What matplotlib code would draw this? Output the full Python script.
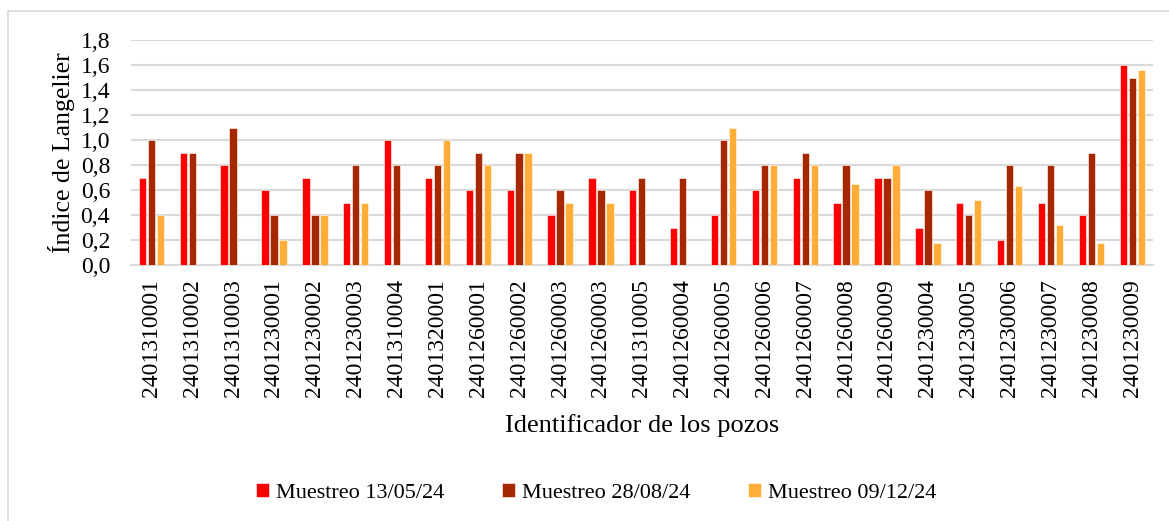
import matplotlib
matplotlib.use("Agg")
import matplotlib.pyplot as plt
import numpy as np
from matplotlib.patches import Rectangle

plt.rcParams['font.family'] = ['Liberation Serif', 'DejaVu Serif']

# Well identifiers and Langelier index per sampling campaign
pozos = ['2401310001', '2401310002', '2401310003', '2401230001', '2401230002',
         '2401230003', '2401310004', '2401320001', '2401260001', '2401260002',
         '2401260003', '2401260003', '2401310005', '2401260004', '2401260005',
         '2401260006', '2401260007', '2401260008', '2401260009', '2401230004',
         '2401230005', '2401230006', '2401230007', '2401230008', '2401230009']
muestreo_1 = [0.7, 0.9, 0.8, 0.6, 0.7, 0.5, 1.0, 0.7, 0.6, 0.6, 0.4, 0.7, 0.6,
              0.3, 0.4, 0.6, 0.7, 0.5, 0.7, 0.3, 0.5, 0.2, 0.5, 0.4, 1.6]
muestreo_2 = [1.0, 0.9, 1.1, 0.4, 0.4, 0.8, 0.8, 0.8, 0.9, 0.9, 0.6, 0.6, 0.7,
              0.7, 1.0, 0.8, 0.9, 0.8, 0.7, 0.6, 0.4, 0.8, 0.8, 0.9, 1.5]
muestreo_3 = [0.4, 0.0, 0.0, 0.2, 0.4, 0.5, 0.0, 1.0, 0.8, 0.9, 0.5, 0.5, 0.0,
              0.0, 1.1, 0.8, 0.8, 0.65, 0.8, 0.18, 0.52, 0.63, 0.32, 0.18, 1.56]
series = ['Muestreo 13/05/24', 'Muestreo 28/08/24', 'Muestreo 09/12/24']
colores = ['#FF0000', '#A52800', '#FFAD36']

fig = plt.figure(figsize=(11.69, 5.21), dpi=100)
ax = fig.add_axes([0.112, 0.491, 0.874, 0.432])

# light outer frame of the chart (only top and left visible in the original)
fig.patches.append(Rectangle((8 / 1169, -0.1), 1.2, 1 - 11 / 521 + 0.1,
                             transform=fig.transFigure, fill=False,
                             edgecolor='#d9d9d9', linewidth=1.2))

x = np.arange(len(pozos))
w = 0.18
step = 0.22
for i, (vals, lab, col) in enumerate(zip([muestreo_1, muestreo_2, muestreo_3], series, colores)):
    ax.bar(x + (i - 1) * step, vals, width=w, color=col, label=lab,
           edgecolor='white', linewidth=0.4, zorder=3)

ax.set_xlim(-0.5, len(pozos) - 0.5)
ax.set_ylim(0, 1.8)
ax.set_yticks(np.arange(0, 1.81, 0.2))
ax.set_yticklabels([f'{v:.1f}'.replace('.', ',') for v in np.arange(0, 1.81, 0.2)], fontsize=17)
ax.set_xticks(x)
ax.set_xticklabels(pozos, rotation=90, fontsize=17)
ax.tick_params(length=0, pad=10)
ax.tick_params(axis='y', pad=15)

ax.grid(axis='y', color='#d9d9d9', linewidth=1.5, zorder=0)
for s in ['top', 'right', 'left']:
    ax.spines[s].set_visible(False)
ax.spines['bottom'].set_color('#d9d9d9')
ax.spines['bottom'].set_linewidth(1.5)

ax.set_ylabel('Índice de Langelier', fontsize=18.5, labelpad=4)
ax.set_xlabel('Identificador de los pozos', fontsize=19, labelpad=12)

fig.legend(loc='center', bbox_to_anchor=(0.51, 0.054), ncol=3, frameon=False,
           fontsize=16, handlelength=0.6, handleheight=0.6, handletextpad=0.3,
           columnspacing=2.6)

fig.savefig('out.png', dpi=100)
